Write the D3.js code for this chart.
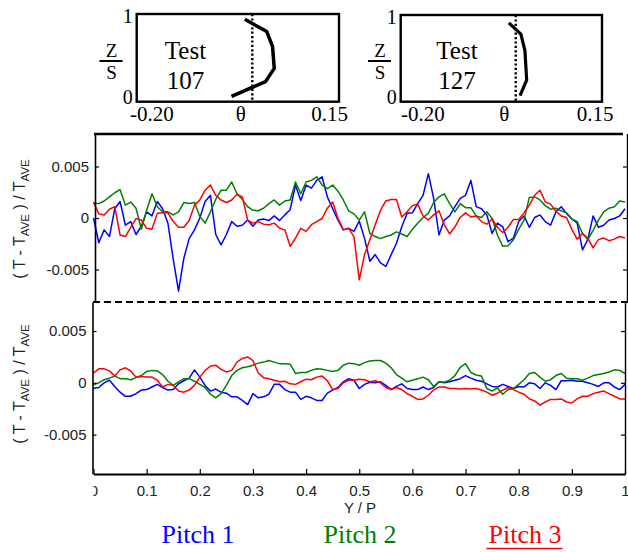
<!DOCTYPE html>
<html>
<head>
<meta charset="utf-8">
<script src="https://cdn.jsdelivr.net/npm/d3@7"></script>
<style>
  body { margin: 0; background: #fff; }
  svg { display: block; }
  text { white-space: pre; }
</style>
</head>
<body>
<svg id="chart" width="628" height="552"></svg>
<script>
// Pitchwise stations Y/P, 0 to 1 in steps of 0.01
const yOverP = d3.range(101).map(i => i / 100);

// (T - T_AVE) / T_AVE, stored in units of 1e-3 — upper panel (Test 107)
const topPitch1 = [
  0, -2.4, -1.15, -1.8, 0.9, 1.6, -0.7, -0.35, -1.6, -0.8,
  0.6, 0.2, 1.6, 0.9, -0.5, -4.0, -7.1, -3.9, -2.0, -1.15,
  0, 1.6, 2.2, -1.6, -2.6, -1.6, -0.35, -0.8, -0.7, -0.2,
  -0.8, -0.2, -0.1, -0.25, 0.2, -0.25, 0.3, 0.8, 3.2, 1.7,
  3.2, 2.9, 3.65, 4.0, 2.05, 0.9, -0.2, -1.15, -1.0, -1.3,
  -0.3, -2.0, -4.2, -3.55, -4.35, -4.7, -3.55, -2.45, -0.85, 0.45,
  0.5, 1.4, 2.2, 4.3, 1.9, -1.65, -0.2, 0.2, 1.1, 1.9,
  2.2, 3.65, 1.1, 0.9, 0.3, -1.5, -0.5, -0.85, -2.3, -1.95,
  -0.35, 0.2, -0.9, 0.05, 0.3, -0.35, -0.7, 0.6, 1.1, 0.45,
  -0.1, -0.5, -3.1, -2.1, 0.2, -0.9, -0.7, -0.2, -0.05, 0.2,
  0.9
];
const topPitch2 = [
  1.4, 1.4, 1.65, 2.05, 2.45, 2.75, 1.25, 1.55, 0.95, -1.1,
  0.75, 2.35, 1.1, 0.6, 0.6, 0.3, 0.6, 1.5, 1.4, 1.5,
  0.15, -0.5, 0.6, 1.8, 2.7, 2.7, 3.5, 2.35, 1.8, 1.1,
  0.75, 0.7, 0.95, 1.4, 1.75, 1.25, 1.65, 1.75, 3.5, 2.35,
  3.5, 3.65, 4.0, 3.2, 2.85, 3.2, 2.6, 1.75, 0.7, 0.4,
  -0.2, 0.6, -1.5, -1.8, -2.0, -1.8, -1.65, -1.35, -1.55, -1.8,
  -1.1, -0.5, 0.05, 0.45, 1.5, 2.05, 2.35, 1.4, 0.6, 1.4,
  1.0, 1.0, 0.2, 0.05, 0.6, -0.05, -1.65, -2.75, -2.7, -2.1,
  -1.1, -0.2, 2.0, 2.05, 1.75, 1.2, 0.85, 0.95, 0.7, 0.5,
  -0.1, -0.35, -1.5, -2.1, -1.2, -0.2, 0.6, 0.95, 1.1, 1.65,
  1.55
];
const topPitch3 = [
  1.55, 0.4, 0.3, 0.85, 1.1, -1.65, -1.8, -0.9, -0.05, -0.2,
  -1.0, -1.1, 0.45, 0.5, 0.5, -0.35, -0.9, -0.9, -0.25, 1.25,
  1.75, 2.7, 3.2, 2.2, 1.75, 1.5, 1.75, 2.3, 2.05, -0.2,
  -0.5, -0.35, -0.6, -0.65, -0.5, -1.0, -1.15, -2.75, -1.95, -1.0,
  -1.3, -0.65, -0.35, -0.05, 0.95, 1.55, -0.05, -1.15, -1.0, -1.8,
  -6.0, -3.55, -2.1, -0.65, 0.75, 1.65, 1.8, 1.8, 0.1, 0.6,
  1.2, 1.35, 0.2, -0.2, 0.3, 0.7, -0.65, -1.55, -0.85, 0.05,
  0.5, 0.1, 0.2, -0.35, -0.6, -0.1, -0.9, -1.4, -0.9, -0.15,
  -0.15, 0.5, 1.25, 2.2, 2.7, 1.55, 1.35, 0.65, 0.2, 0.05,
  -1.1, -2.05, -1.5, -1.95, -2.9, -2.1, -1.95, -2.2, -2.05, -1.8,
  -1.95
];

// Lower panel (Test 127), same units
const bottomPitch1 = [
  -0.55, -0.45, 0, 0.25, -0.35, -0.9, -1.3, -1.3, -1.05, -0.7,
  -0.65, -0.4, -0.15, -0.45, -0.7, -0.65, -0.1, 0.2, 0.45, 1.25,
  0.55, -0.25, -0.8, -0.6, -0.9, -1.0, -1.35, -1.35, -1.7, -2.1,
  -1.05, -1.45, -1.35, -1.1, -0.15, -0.15, -0.65, -0.9, -0.9, -1.6,
  -1.3, -1.45, -1.7, -1.7, -1.0, -0.7, -0.45, 0.1, 0.4, 0.25,
  -0.55, -0.15, 0.05, 0, 0.1, -0.25, -0.65, -0.35, -0.1, -0.55,
  -0.65, -0.65, -0.4, -0.65, -0.45, 0.1, 0, 0.1, 0.25, 0.4,
  0.7, 0.45, 0.25, 0.15, -0.1, -0.35, -0.4, -0.15, -0.35, -0.55,
  -0.35, -0.4, 0, -0.1, -0.55, 0, -0.25, -0.65, 0.2, 0.2,
  0.25, 0.15, 0.15, 0, -0.15, -0.35, 0, 0, -0.4, -0.65,
  -0.15
];
const bottomPitch2 = [
  -0.2, 0, 0.3, 0.45, 0.65, 0.4, 0.4, 0.3, 0.5, 0.7,
  1.1, 1.2, 1.15, 0.8, 0.15, -0.25, 0.1, 0.4, 0.4, 0.15,
  -0.15, -0.45, -1.1, -1.45, -1.05, -0.25, 0.7, 1.2, 1.45, 1.55,
  1.7, 1.9, 2.0, 2.15, 2.0, 1.85, 1.85, 1.8, 0.9, 1.0,
  1.0, 1.2, 1.35, 1.3, 1.2, 1.1, 1.2, 1.7, 1.9, 1.85,
  1.7, 1.95, 2.1, 2.15, 2.15, 1.9, 1.45, 0.8, 0.45, 0.1,
  0.25, 0.4, 0.55, 0.3, -0.35, 0.1, 0.05, 0.25, 0.7, 1.5,
  1.85, 1.0, 0.75, 0.65, -0.55, -0.8, -0.5, -1.1, -0.65, -0.55,
  -0.15, 0.3, 0.9, 1.0, 0.55, 0.15, 0.3, 0.7, 0.9, 0.45,
  0.4, 0.4, 0.25, 0.45, 0.7, 0.8, 0.9, 1.05, 1.25, 1.2,
  0.9
];
const bottomPitch3 = [
  0.95, 1.35, 1.35, 1.15, 0.65, 1.25, 1.45, 1.15, 0.55, 0.6,
  0.55, 0.55, 0.25, -0.4, -0.15, -0.25, -0.8, -0.9, -0.7, -0.25,
  0.55, 1.2, 1.6, 1.7, 1.3, 1.05, 1.2, 2.0, 2.35, 2.5,
  2.15, 0.95, 0.5, 0.4, 0.25, 0.1, 0.15, -0.1, -0.15, 0.1,
  0.35, 0.3, 0.55, 0.65, 0.2, -0.65, -0.55, 0, 0.25, 0.25,
  0.35, 0.3, 0.1, 0.2, 0, -0.45, -0.65, -0.45, -0.65, -1.05,
  -1.3, -1.6, -1.55, -1.2, -0.7, -0.4, -0.4, -0.55, -0.55, -0.6,
  -0.55, -0.6, -0.55, -0.7, -0.9, -1.2, -1.0, -0.7, -0.45, -0.65,
  -0.9, -1.1, -1.55, -1.75, -2.15, -1.85, -1.6, -1.6, -1.55, -1.85,
  -1.95, -1.55, -1.3, -1.3, -1.05, -0.9, -0.8, -1.05, -1.3, -1.55,
  -1.55
];
const valueUnit = 1e-3;

// Axis ticks
const xTickValues = [0, 0.1, 0.2, 0.3, 0.4, 0.5, 0.6, 0.7, 0.8, 0.9, 1];
const xTickLabels = ["0", "0.1", "0.2", "0.3", "0.4", "0.5", "0.6", "0.7", "0.8", "0.9", "1"];
const yTickValues = [-0.005, 0, 0.005];
const yTickLabels = ["-0.005", "0", "0.005"];

// Legend
const pitchNames = ["Pitch 1", "Pitch 2", "Pitch 3"];
const pitchColors = ["#0000ff", "#008000", "#ff0000"];

// Inlet flow-angle profiles theta(Z/S) for each test
const insetTests = ["107", "127"];
const profileTheta107 = [-0.036, 0.023, 0.038, 0.035, 0.025, -0.013];
const profileZ107 = [0.06, 0.23, 0.38, 0.63, 0.80, 0.94];
const profileTheta127 = [0.0075, 0.019, 0.016, 0.009, -0.012];
const profileZ127 = [0.07, 0.25, 0.59, 0.78, 0.91];
const thetaTickLabels = ["-0.20", "0.15"];

const SANS = "'Liberation Sans', Arial, Helvetica, sans-serif";
const SERIF = "'Liberation Serif', 'Times New Roman', Times, serif";

const svg = d3.select("#chart");
const x = d3.scaleLinear().domain([0, 1]).range([93.5, 625]);

const panels = [
  { y: d3.scaleLinear().domain([-0.0082, 0.0082]).range([302.5, 133.5]),
    series: [topPitch1, topPitch2, topPitch3], left: 95, right: 627, labelY: 219 },
  { y: d3.scaleLinear().domain([-0.0088, 0.0078]).range([474, 302]),
    series: [bottomPitch1, bottomPitch2, bottomPitch3], left: 92.5, right: 625, labelY: 384 }
];

function styleAxis(g, width) {
  g.select(".domain").attr("stroke", "#000").attr("stroke-width", width);
  g.selectAll(".tick line").attr("stroke", "#000").attr("stroke-width", 1.2);
  g.selectAll(".tick text").attr("font-family", SANS).attr("font-size", 15).attr("fill", "#222");
}

panels.forEach(p => {
  // traces
  const line = d3.line()
    .x((d, i) => x(yOverP[i]))
    .y(d => p.y(d * valueUnit));
  p.series.forEach((s, k) => {
    svg.append("path")
      .datum(s)
      .attr("d", line)
      .attr("fill", "none")
      .attr("stroke", pitchColors[k])
      .attr("stroke-width", 1.5)
      .attr("stroke-linejoin", "round");
  });

  // left axis with labels, ticks pointing inward
  const gl = svg.append("g").attr("transform", `translate(${p.left},0)`)
    .call(d3.axisLeft(p.y).tickValues(yTickValues)
      .tickFormat((d, i) => yTickLabels[i])
      .tickSizeInner(-4).tickSizeOuter(0).tickPadding(6));
  styleAxis(gl, 1.6);

  // mirrored right axis
  const gr = svg.append("g").attr("transform", `translate(${p.right},0)`)
    .call(d3.axisRight(p.y).tickValues(yTickValues)
      .tickFormat("").tickSizeInner(-4).tickSizeOuter(0));
  styleAxis(gr, 1.4);

  // rotated y label
  const t = svg.append("text")
    .attr("transform", `translate(25,${p.labelY}) rotate(-90)`)
    .attr("text-anchor", "middle")
    .attr("font-family", SANS)
    .attr("font-size", 16)
    .attr("fill", "#222");
  t.append("tspan").text("( T - T");
  t.append("tspan").attr("font-size", 11.5).attr("dy", 4).text("AVE");
  t.append("tspan").attr("dy", -4).text(" ) / T");
  t.append("tspan").attr("font-size", 11.5).attr("dy", 4).text("AVE");
});

// top frame line of the upper panel
svg.append("line")
  .attr("x1", 94).attr("x2", 623).attr("y1", 134).attr("y2", 134)
  .attr("stroke", "#000").attr("stroke-width", 2.5);

// dashed divider between the two tests
svg.append("line")
  .attr("x1", 93).attr("x2", 628).attr("y1", 302).attr("y2", 302)
  .attr("stroke", "#000").attr("stroke-width", 2)
  .attr("stroke-dasharray", "7,4");

// bottom x axis
svg.append("clipPath").attr("id", "xlabclip")
  .append("rect").attr("x", 93.5).attr("y", -10).attr("width", 540).attr("height", 60);
const gx = svg.append("g")
  .attr("transform", "translate(0,474)")
  .attr("clip-path", "url(#xlabclip)")
  .call(d3.axisBottom(x).tickValues(xTickValues)
    .tickFormat((d, i) => xTickLabels[i])
    .tickSizeInner(-5).tickSizeOuter(0).tickPadding(11));
styleAxis(gx, 2);

svg.append("text")
  .attr("x", 360).attr("y", 513)
  .attr("text-anchor", "middle")
  .attr("font-family", SANS).attr("font-size", 15).attr("fill", "#222")
  .text("Y / P");

// legend
const legendX = [198, 360, 525];
pitchNames.forEach((name, i) => {
  const lt = svg.append("text")
    .attr("x", legendX[i]).attr("y", 543)
    .attr("text-anchor", "middle")
    .attr("font-family", SERIF).attr("font-size", 26)
    .attr("fill", pitchColors[i])
    .text(name);
  if (i === 2) {
    const w = lt.node().getComputedTextLength();
    svg.append("line")
      .attr("x1", legendX[i] - w / 2 - 2).attr("x2", legendX[i] + w / 2 + 1)
      .attr("y1", 548.5).attr("y2", 548.5)
      .attr("stroke", pitchColors[i]).attr("stroke-width", 1.5);
  }
});

// inset profiles
const insets = [
  { test: insetTests[0], theta: profileTheta107, z: profileZ107,
    box: [136.7, 339, 14, 101.7], lw: 3.5, lab: [130, 329.5], fracX: 111.5, textX: 185.5 },
  { test: insetTests[1], theta: profileTheta127, z: profileZ127,
    box: [400.7, 602, 15, 101.7], lw: 3.2, lab: [401, 595], fracX: 380, textX: 457 }
];
insets.forEach(ins => {
  const [l, r, top, bot] = ins.box;
  const th = d3.scaleLinear().domain([-0.2, 0.15]).range([l, r]);
  const zz = d3.scaleLinear().domain([0, 1]).range([bot, top]);
  const g = svg.append("g");

  g.append("rect").attr("x", l).attr("y", top)
    .attr("width", r - l).attr("height", bot - top)
    .attr("fill", "none").attr("stroke", "#000").attr("stroke-width", 2.4);

  g.append("line").attr("x1", th(0)).attr("x2", th(0))
    .attr("y1", zz(1)).attr("y2", zz(0))
    .attr("stroke", "#000").attr("stroke-width", 2.4)
    .attr("stroke-dasharray", "2.2,2.2");

  g.append("path")
    .datum(ins.theta.map((t, i) => [t, ins.z[i]]))
    .attr("d", d3.line().x(d => th(d[0])).y(d => zz(d[1])))
    .attr("fill", "none").attr("stroke", "#000")
    .attr("stroke-width", ins.lw).attr("stroke-linejoin", "round");

  // Z/S label
  const fx = ins.fracX;
  g.append("text").attr("x", fx).attr("y", 57).attr("text-anchor", "middle")
    .attr("font-family", SERIF).attr("font-size", 19).text("Z");
  g.append("line").attr("x1", fx - 12).attr("x2", fx + 11).attr("y1", 61).attr("y2", 61)
    .attr("stroke", "#000").attr("stroke-width", 2);
  g.append("text").attr("x", fx).attr("y", 79).attr("text-anchor", "middle")
    .attr("font-family", SERIF).attr("font-size", 19).text("S");

  // Z/S ends
  g.append("text").attr("x", l - 9).attr("y", zz(1) + 9).attr("text-anchor", "middle")
    .attr("font-family", SERIF).attr("font-size", 20).text("1");
  g.append("text").attr("x", l - 9).attr("y", zz(0) + 2).attr("text-anchor", "middle")
    .attr("font-family", SERIF).attr("font-size", 20).text("0");

  // theta axis labels
  g.append("text").attr("x", ins.lab[0]).attr("y", 121).attr("text-anchor", "start")
    .attr("font-family", SERIF).attr("font-size", 21).text(thetaTickLabels[0]);
  g.append("text").attr("x", ins.lab[1]).attr("y", 121).attr("text-anchor", "middle")
    .attr("font-family", SERIF).attr("font-size", 21).text(thetaTickLabels[1]);
  g.append("text").attr("x", (l + r) / 2 + 3).attr("y", 121).attr("text-anchor", "middle")
    .attr("font-family", SERIF).attr("font-size", 21).text("θ");

  // test number
  g.append("text").attr("x", ins.textX).attr("y", 59).attr("text-anchor", "middle")
    .attr("font-family", SERIF).attr("font-size", 25).text("Test");
  g.append("text").attr("x", ins.textX).attr("y", 89).attr("text-anchor", "middle")
    .attr("font-family", SERIF).attr("font-size", 25).text(ins.test);
});
</script>
</body>
</html>
